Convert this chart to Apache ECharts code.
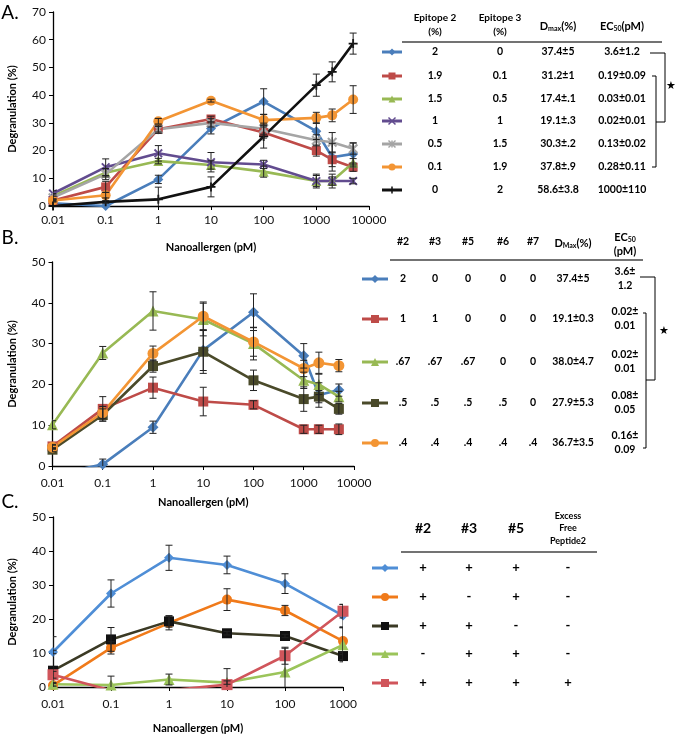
<!DOCTYPE html>
<html><head><meta charset="utf-8">
<script src="https://cdn.jsdelivr.net/npm/echarts@6/dist/echarts.min.js"></script>
<style>html,body{margin:0;padding:0;background:#fff}#c{width:675px;height:735px}</style>
</head><body><div id="c"></div>
<script>
// ---------------- DATA ----------------
// Panel A
const xA = [0.01, 0.1, 1, 10, 100, 1000, 2000, 5000];
const aBlue   = [1, 0, 9.6, 28, 37.7, 27, 17.6, 18.8];
const aBlueErr = [0, 0, 1.5, 2, 4.6, 3, 5, 4];
const aRed    = [2, 6.9, 27.7, 31.4, 26.5, 20, 16.7, 14];
const aRedErr = [0.5, 2, 1, 1, 2, 2, 2.5, 1.5];
const aGreen  = [3.5, 12, 16.2, 14.8, 12.4, 9, 9, 15.6];
const aGreenErr = [1, 1.5, 1, 1.5, 2, 2, 2.5, 1.5];
const aPurple = [4.5, 14, 19, 15.8, 15, 9, 9, 9];
const aPurpleErr = [1, 3, 2.8, 3.5, 1.5, 2.5, 1.5, 1];
const aGray   = [3, 11.5, 27.7, 30, 27.9, 23.7, 23, 20.7];
const aGrayErr = [1, 2, 1.5, 1.5, 2, 2, 3.5, 2];
const aOrange = [2, 3.9, 30.6, 38, 31, 31.8, 32.7, 38.4];
const aOrangeErr = [0.5, 1, 1, 0.5, 2, 2, 2.3, 5];
const aBlack  = [0, 1.5, 2.4, 6.9, 25.1, 43.6, 48.4, 58.6];
const aBlackErr = [0, 0.5, 4.4, 3.6, 4.2, 4, 3.6, 3.8];

// Panel A table
const aEpi2 = ['2', '1.9', '1.5', '1', '0.5', '0.1', '0'];
const aEpi3 = ['0', '0.1', '0.5', '1', '1.5', '1.9', '2'];
const aDmax = ['37.4±5', '31.2±1', '17.4±.1', '19.1±.3', '30.3±.2', '37.8±.9', '58.6±3.8'];
const aEc50 = ['3.6±1.2', '0.19±0.09', '0.03±0.01', '0.02±0.01', '0.13±0.02', '0.28±0.11', '1000±110'];

// Panel B
const xB = [0.01, 0.1, 1, 10, 100, 1000, 2000, 5000];
const bBlue   = [-2.3, 0.4, 9.5, 28.4, 37.7, 27, 17.4, 18.6];
const bBlueErr = [0, 1.3, 1.5, 5, 4.5, 3, 3, 1.5];
const bRed    = [4.8, 14, 19.2, 15.8, 15, 9, 9, 9];
const bRedErr = [0.5, 3, 2.6, 3.5, 1, 1, 1, 1.3];
const bGreen  = [10.1, 27.7, 38, 35.9, 30, 21, 20, 17];
const bGreenErr = [1, 1.6, 4.7, 4, 4, 2, 2.5, 1.3];
const bOlive  = [4, 12.5, 24.5, 28, 21, 16.4, 17, 14];
const bOliveErr = [0.5, 1.5, 1.5, 5.3, 2.5, 3, 1.5, 1.3];
const bOrange = [4.6, 13.1, 27.6, 36.7, 30.4, 23.9, 25.3, 24.6];
const bOrangeErr = [0.5, 1.5, 1.8, 3.5, 3.5, 2, 2.6, 1.5];

// Panel B table
const bCols = [['2','0','0','0','0'], ['1','1','0','0','0'], ['.67','.67','.67','0','0'], ['.5','.5','.5','.5','0'], ['.4','.4','.4','.4','.4']];
const bDmax = ['37.4±5', '19.1±0.3', '38.0±4.7', '27.9±5.3', '36.7±3.5'];
const bEc50 = [['3.6±','1.2'], ['0.02±','0.01'], ['0.02±','0.01'], ['0.08±','0.05'], ['0.16±','0.09']];
const bHeaders = ['#2', '#3', '#5', '#6', '#7'];

// Panel C
const xC = [0.01, 0.1, 1, 10, 100, 1000];
const cBlue   = [10.3, 27.5, 38, 35.9, 30.4, 21];
const cBlueErr = [0.5, 4, 3.7, 2.6, 2.9, 3.3];
const cOrange = [0.5, 11.5, 18.8, 25.7, 22.5, 13.5];
const cOrangeErr = [0.5, 1.8, 2, 3.2, 1.5, 4];
const cBlack  = [4.8, 14, 19.3, 15.8, 15, 9.1];
const cBlackErr = [10, 3.5, 1.7, 0.5, 0.5, 1];
const cGreen  = [0.8, 0.6, 2.2, 1.3, 4.4, 12.4];
const cGreenErr = [0.5, 2.6, 1.6, 0.5, 7, 5];
const cRed    = [3.6, -1, -1, 0.7, 9.2, 22.3];
const cRedErr = [1, 0, 0, 4.7, 2.5, 2];

// Panel C table
const cHeaders = ['#2', '#3', '#5'];
const cSigns = [['+','+','+','-'], ['+','-','+','-'], ['+','+','-','-'], ['-','+','+','-'], ['+','+','+','+']];

// ---------------- STYLE ----------------
const FONT = 'Lato, "Liberation Sans", sans-serif';
const P_X = 'path://M0,1.5 L1.5,0 L5,3.5 L8.5,0 L10,1.5 L6.5,5 L10,8.5 L8.5,10 L5,6.5 L1.5,10 L0,8.5 L3.5,5 Z';
const P_AST = 'path://M0,1.5 L1.5,0 L4.2,2.7 L4.2,0 L5.8,0 L5.8,2.7 L8.5,0 L10,1.5 L6.5,5 L10,8.5 L8.5,10 L5.8,7.3 L5.8,10 L4.2,10 L4.2,7.3 L1.5,10 L0,8.5 L3.5,5 Z';
const P_PLUS = 'path://M4,0 L6,0 L6,4 L10,4 L10,6 L6,6 L6,10 L4,10 L4,6 L0,6 L0,4 L4,4 Z';

const C = {
  blue: '#4a7ebb', red: '#be4b48', green: '#98b954', purple: '#624c8f', gray: '#a5a5a5',
  orange: '#f39534', black: '#111111', olive: '#4a4a2a',
  cBlue: '#4f8ed6', cOrange: '#f07a1a', cBlack: '#3b3a25', cGreen: '#9bc45a', cRed: '#d0555b'
};

const seriesDefsA = [
  { y: aBlue, e: aBlueErr, color: C.blue, sym: 'diamond', size: 10, shape: 'diamond' },
  { y: aRed, e: aRedErr, color: C.red, sym: 'rect', size: 9, shape: 'square' },
  { y: aGreen, e: aGreenErr, color: C.green, sym: 'triangle', size: 10, shape: 'triangle' },
  { y: aPurple, e: aPurpleErr, color: C.purple, sym: P_X, size: 9, shape: 'x' },
  { y: aGray, e: aGrayErr, color: C.gray, sym: P_AST, size: 10, shape: 'ast' },
  { y: aOrange, e: aOrangeErr, color: C.orange, sym: 'circle', size: 10, shape: 'circle' },
  { y: aBlack, e: aBlackErr, color: C.black, sym: P_PLUS, size: 9, shape: 'plus' }
];
const seriesDefsB = [
  { y: bBlue, e: bBlueErr, color: C.blue, sym: 'diamond', size: 11, shape: 'diamond' },
  { y: bRed, e: bRedErr, color: C.red, sym: 'rect', size: 10, shape: 'square' },
  { y: bGreen, e: bGreenErr, color: C.green, sym: 'triangle', size: 11, shape: 'triangle' },
  { y: bOlive, e: bOliveErr, color: C.olive, sym: 'rect', size: 10, shape: 'square' },
  { y: bOrange, e: bOrangeErr, color: C.orange, sym: 'circle', size: 11, shape: 'circle' }
];
const seriesDefsC = [
  { y: cBlue, e: cBlueErr, color: C.cBlue, sym: 'diamond', size: 10, shape: 'diamond' },
  { y: cOrange, e: cOrangeErr, color: C.cOrange, sym: 'circle', size: 10, shape: 'circle' },
  { y: cBlack, e: cBlackErr, color: C.cBlack, mcolor: '#111', sym: 'rect', size: 10, shape: 'square' },
  { y: cGreen, e: cGreenErr, color: C.cGreen, sym: 'triangle', size: 11, shape: 'triangle' },
  { y: cRed, e: cRedErr, color: C.cRed, sym: 'rect', size: 11, shape: 'square' }
];

function buildSeries(defs, xs, idx) {
  const out = [];
  defs.forEach((d) => {
    out.push({
      type: 'line', xAxisIndex: idx, yAxisIndex: idx, clip: true,
      data: xs.map((x, i) => [x, d.y[i]]),
      symbol: d.sym, symbolSize: d.size, showSymbol: true,
      lineStyle: { color: d.color, width: 2.6 },
      itemStyle: { color: d.mcolor || d.color, borderWidth: 0 },
      emphasis: { disabled: true }, animation: false, z: 2
    });
    out.push({
      type: 'custom', xAxisIndex: idx, yAxisIndex: idx, clip: true, z: 3, animation: false,
      data: xs.map((x, i) => [x, d.y[i], d.e[i]]),
      encode: { x: 0, y: 1 },
      renderItem: (params, api) => {
        const x = api.value(0), y = api.value(1), e = api.value(2);
        if (!e) return null;
        const t = api.coord([x, y + e]);
        const b = api.coord([x, y - e]);
        const w = 3.5;
        const st = { stroke: '#222', lineWidth: 1 };
        return { type: 'group', children: [
          { type: 'line', shape: { x1: t[0], y1: t[1], x2: b[0], y2: b[1] }, style: st },
          { type: 'line', shape: { x1: t[0] - w, y1: t[1], x2: t[0] + w, y2: t[1] }, style: st },
          { type: 'line', shape: { x1: b[0] - w, y1: b[1], x2: b[0] + w, y2: b[1] }, style: st }
        ]};
      }
    });
  });
  return out;
}

function logFmt(v) {
  const e = Math.round(Math.log10(v));
  return e < 0 ? Math.pow(10, e).toFixed(-e) : String(Math.round(Math.pow(10, e)));
}

function xAxis(idx, min, max, gap, margin) {
  return {
    type: 'log', logBase: 10, gridIndex: idx, min, max,
    name: 'Nanoallergen (pM)', nameLocation: 'middle', nameGap: gap,
    nameTextStyle: { fontFamily: FONT, fontWeight: 'bold', fontSize: 11, color: '#000' },
    axisLine: { show: true, lineStyle: { color: '#000', width: 1.3 } },
    axisTick: { show: true, inside: false, length: 4, lineStyle: { color: '#000' } },
    minorTick: { show: false }, splitLine: { show: false }, minorSplitLine: { show: false },
    axisLabel: { formatter: logFmt, fontFamily: FONT, fontSize: 12, color: '#111', margin: margin }
  };
}
function yAxis(idx, max) {
  return {
    type: 'value', gridIndex: idx, min: 0, max, interval: 10,
    name: 'Degranulation (%)', nameLocation: 'middle', nameGap: 35,
    nameTextStyle: { fontFamily: FONT, fontWeight: 'bold', fontSize: 11, color: '#000' },
    axisLine: { show: true, lineStyle: { color: '#000', width: 1.3 } },
    axisTick: { show: true, inside: false, length: 4, lineStyle: { color: '#000' } },
    splitLine: { show: false },
    axisLabel: { fontFamily: FONT, fontSize: 12, color: '#111', margin: 7 }
  };
}

// ---------------- GRAPHICS (tables / legends) ----------------
const G = [];
function txt(x, y, text, size, bold, extra) {
  G.push(Object.assign({
    type: 'text', x, y, silent: true,
    style: {
      text, fill: '#000', font: (bold ? 'bold ' : '') + size + 'px ' + FONT,
      textAlign: 'center', textVerticalAlign: 'middle', align: 'center', verticalAlign: 'middle'
    }
  }, extra || {}));
}
function richTxt(x, y, text, rich) {
  G.push({ type: 'text', x, y, silent: true,
    style: { text, rich, fill: '#000', textAlign: 'center', textVerticalAlign: 'middle', align: 'center', verticalAlign: 'middle' } });
}
function line(x1, y1, x2, y2, color, w) {
  G.push({ type: 'line', silent: true, shape: { x1, y1, x2, y2 }, style: { stroke: color || '#000', lineWidth: w || 1 } });
}
function poly(points, color, w) {
  G.push({ type: 'polyline', silent: true, shape: { points }, style: { stroke: color || '#000', lineWidth: w || 1, fill: null } });
}
function icon(cx, cy, half, d, s) {
  line(cx - half, cy, cx + half, cy, d.color, 3);
  const c = d.mcolor || d.color;
  const h = s / 2;
  if (d.shape === 'diamond') G.push({ type: 'polygon', silent: true, shape: { points: [[cx, cy - h], [cx + h, cy], [cx, cy + h], [cx - h, cy]] }, style: { fill: c } });
  else if (d.shape === 'square') G.push({ type: 'rect', silent: true, shape: { x: cx - h, y: cy - h, width: s, height: s }, style: { fill: c } });
  else if (d.shape === 'triangle') G.push({ type: 'polygon', silent: true, shape: { points: [[cx, cy - h], [cx + h, cy + h], [cx - h, cy + h]] }, style: { fill: c } });
  else if (d.shape === 'circle') G.push({ type: 'circle', silent: true, shape: { cx, cy, r: h }, style: { fill: c } });
  else if (d.shape === 'x' || d.shape === 'ast') {
    line(cx - h, cy - h, cx + h, cy + h, c, 1.5); line(cx - h, cy + h, cx + h, cy - h, c, 1.5);
    if (d.shape === 'ast') line(cx, cy - h, cx, cy + h, c, 1.5);
  } else if (d.shape === 'plus') { line(cx, cy - h, cx, cy + h, c, 1.5); }
}

// Panel labels
txt(10, 13, 'A.', 19, false);
txt(10, 238, 'B.', 19, false);
txt(10, 502, 'C.', 19, false);

// Table A
const subRich = (sub) => ({
  a: { font: 'bold 11px ' + FONT, fill: '#000', verticalAlign: 'bottom', lineHeight: 14 },
  s: { font: 'bold 7px ' + FONT, fill: '#000', verticalAlign: 'bottom', lineHeight: 11 }
});
txt(435, 18, 'Epitope 2', 10, true); txt(435, 32, '(%)', 10, true);
txt(500, 18, 'Epitope 3', 10, true); txt(500, 32, '(%)', 10, true);
richTxt(558, 25, '{a|D}{s|max}{a|(%)}', subRich());
richTxt(622, 25, '{a|EC}{s|50}{a|(pM)}', subRich());
line(402, 42, 662, 42, '#444', 1.5);
const rowsA = [52, 76, 99, 121, 144, 167, 190];
rowsA.forEach((ry, i) => {
  icon(392, ry, 10, seriesDefsA[i], 7);
  txt(435, ry, aEpi2[i], 10.5, true);
  txt(500, ry, aEpi3[i], 10.5, true);
  txt(558, ry, aDmax[i], 10.5, true);
  txt(622, ry, aEc50[i], 10.5, true);
});
poly([[650, 53], [665, 53], [665, 122], [656, 122]]);
poly([[652, 76], [656, 76], [656, 167], [652, 167]]);
txt(671, 85, '★', 11, false);

// Table B
const bHx = [403, 435, 468, 503, 533];
bHeaders.forEach((h, j) => txt(bHx[j], 242, h, 10.5, true));
richTxt(573, 242, '{a|D}{s|Max}{a|(%)}', subRich());
richTxt(625, 236, '{a|EC}{s|50}', subRich());
txt(625, 251, '(pM)', 11, true);
line(390, 260, 643, 260, '#444', 1.5);
const rowsB = [279, 319, 362, 403, 443];
rowsB.forEach((ry, i) => {
  icon(375, ry, 13, seriesDefsB[i], 8);
  bCols[i].forEach((v, j) => txt(bHx[j], ry, v, 10.5, true));
  txt(573, ry, bDmax[i], 10.5, true);
  txt(625, ry - 7, bEc50[i][0], 10.5, true);
  txt(625, ry + 7, bEc50[i][1], 10.5, true);
});
poly([[640, 277], [655, 277], [655, 380], [646, 380]]);
poly([[643, 313], [646, 313], [646, 448], [643, 448]]);
txt(664, 330, '★', 11, false);

// Table C
const cHx = [423, 469, 516];
cHeaders.forEach((h, j) => txt(cHx[j], 528, h, 14, true));
txt(568, 516, 'Excess', 9, true); txt(568, 528, 'Free', 9, true); txt(568, 541, 'Peptide2', 9, true);
line(401, 552, 597, 552, '#444', 1.5);
const rowsC = [568, 597, 626, 654, 683];
const cSignX = [423, 469, 516, 568];
rowsC.forEach((ry, i) => {
  icon(385, ry, 13, seriesDefsC[i], 8);
  cSigns[i].forEach((v, j) => txt(cSignX[j], ry, v, 13, true));
});

// ---------------- CHART ----------------
const chart = echarts.init(document.getElementById('c'), null, { renderer: 'canvas' });
chart.setOption({
  animation: false,
  backgroundColor: '#fff',
  grid: [
    { left: 53, top: 12, width: 316, height: 194 },
    { left: 52.5, top: 262, width: 301.5, height: 204 },
    { left: 53, top: 517, width: 290, height: 175 }
  ],
  xAxis: [xAxis(0, 0.01, 10000, 36, 8), xAxis(1, 0.01, 10000, 31, 11), xAxis(2, 0.01, 1000, 36, 11)],
  yAxis: [yAxis(0, 70), yAxis(1, 50), yAxis(2, 50)],
  series: [].concat(buildSeries(seriesDefsA, xA, 0), buildSeries(seriesDefsB, xB, 1), buildSeries(seriesDefsC, xC, 2)),
  graphic: G
});
</script>
</body></html>
